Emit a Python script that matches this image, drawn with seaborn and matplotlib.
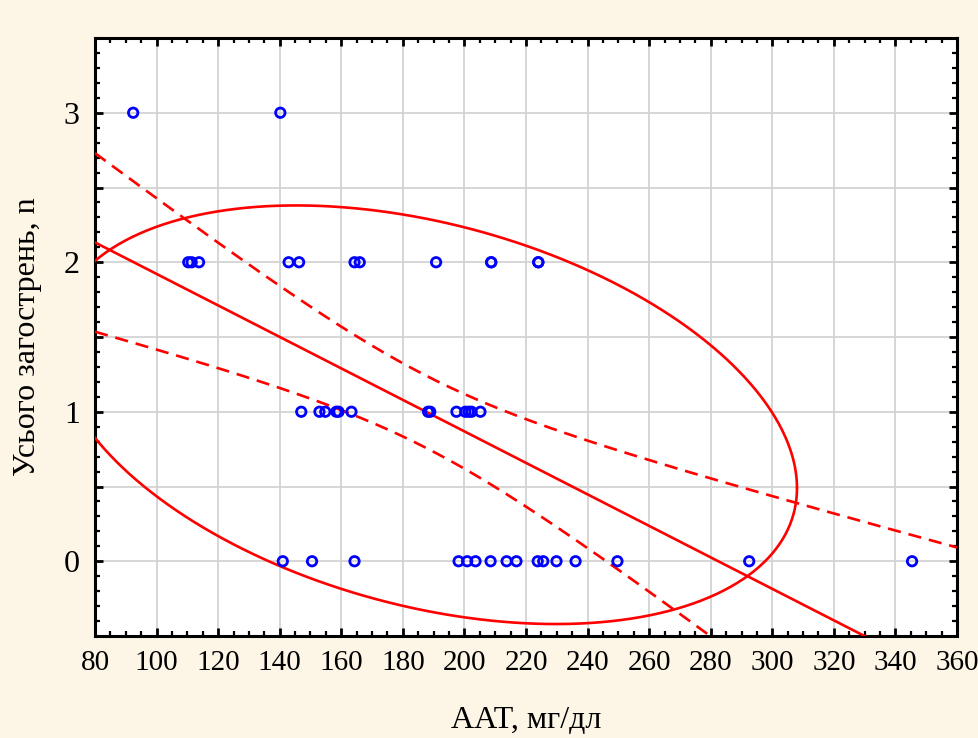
import numpy as np
import pandas as pd
import matplotlib
matplotlib.use("Agg")
import matplotlib.pyplot as plt
import seaborn as sns
from matplotlib.ticker import MultipleLocator, FixedLocator, FuncFormatter

# ---- data ----
aat_3 = [92.4, 140.2]
aat_2 = [110.3, 111.4, 113.8, 142.9, 146.3, 164.3, 166.0, 190.8, 208.7, 208.7, 224.0, 224.0]
aat_1 = [147.0, 152.9, 154.8, 158.4, 159.1, 163.3, 188.2, 188.9, 197.4, 200.3, 201.4, 202.3, 205.2]
aat_0 = [141.0, 150.5, 164.3, 198.1, 200.9, 203.6, 208.5, 213.7, 216.9, 223.8, 225.6,
         229.9, 236.1, 249.7, 292.5, 345.4]
x_ticks = list(range(80, 361, 20))
y_tick_labels = ["0", "1", "2", "3"]

# ellipse shape (as drawn in the reference, centred on the data means)
ell_half_x = 120.5
ell_half_y = 1.40
ell_rho = -0.35
t_crit = 2.02  # t(0.975, n-2)

x_label = "AAT, мг/дл"
y_label = "Усього загострень, n"

aat = np.array(aat_3 + aat_2 + aat_1 + aat_0)
exac = np.array([3] * len(aat_3) + [2] * len(aat_2) + [1] * len(aat_1) + [0] * len(aat_0), dtype=float)
df = pd.DataFrame({"aat": aat, "exac": exac})

sns.set_style("white")
plt.rcParams["font.family"] = ["Liberation Serif", "DejaVu Serif"]
plt.rcParams["text.color"] = "black"
plt.rcParams["axes.labelcolor"] = "black"
plt.rcParams["xtick.color"] = "black"
plt.rcParams["ytick.color"] = "black"

fig = plt.figure(figsize=(9.79, 7.38), dpi=100)
fig.patch.set_facecolor("#FDF6E7")
ax = fig.add_axes([95 / 979, 1 - 636 / 738, (957 - 95) / 979, (636 - 38) / 738])
ax.set_facecolor("white")

# regression + 95% confidence band
n = len(aat)
slope, intercept = np.polyfit(aat, exac, 1)
xs = np.linspace(80, 360, 400)
yhat = intercept + slope * xs
resid = exac - (intercept + slope * aat)
s = np.sqrt(np.sum(resid ** 2) / (n - 2))
sxx = np.sum((aat - aat.mean()) ** 2)
half = t_crit * s * np.sqrt(1 / n + (xs - aat.mean()) ** 2 / sxx)

red = "#FF0000"
lw_red = 1.9
ax.plot(xs, yhat, color=red, lw=lw_red, zorder=3)
ax.plot(xs, yhat + half, color=red, lw=lw_red, ls=(0, (5, 3)), zorder=3)
ax.plot(xs, yhat - half, color=red, lw=lw_red, ls=(0, (5, 3)), zorder=3)

# ellipse
tt = np.linspace(0, 2 * np.pi, 600)
ex = aat.mean() + ell_half_x * np.cos(tt)
ey = exac.mean() - 0.02 + ell_half_y * (ell_rho * np.cos(tt) + np.sqrt(1 - ell_rho ** 2) * np.sin(tt))
ax.plot(ex, ey, color=red, lw=lw_red, zorder=3)

sns.scatterplot(data=df, x="aat", y="exac", ax=ax, marker="o", s=46,
                facecolors="none", edgecolors="#0000FF", linewidths=2.0, zorder=4)

ax.set_xlim(80, 360)
ax.set_ylim(-0.5, 3.5)
ax.xaxis.set_major_locator(FixedLocator(x_ticks))
ax.xaxis.set_minor_locator(MultipleLocator(5))
ax.yaxis.set_major_locator(MultipleLocator(0.5))
ax.yaxis.set_minor_locator(MultipleLocator(0.1))
ax.yaxis.set_major_formatter(FuncFormatter(
    lambda v, p: y_tick_labels[int(round(v))] if abs(v - round(v)) < 1e-6 and 0 <= round(v) <= 3 else ""))

ax.grid(True, which="major", color="#D0D0D0", lw=1.2, zorder=0)
ax.set_axisbelow(True)
for sp in ax.spines.values():
    sp.set_visible(True)
    sp.set_color("black")
    sp.set_linewidth(2.2)

ax.tick_params(which="both", direction="in", top=True, right=True, bottom=True, left=True,
               color="black", labelcolor="black")
ax.tick_params(which="major", length=6, width=2.0, pad=9)
ax.tick_params(which="minor", length=3.5, width=1.6)
ax.tick_params(axis="x", which="major", labelsize=21, pad=10)
ax.tick_params(axis="y", which="major", labelsize=23, pad=11)

ax.set_xlabel(x_label, fontsize=23, labelpad=22, color="black")
ax.set_ylabel(y_label, fontsize=23, labelpad=16, color="black")

fig.savefig("out.png", dpi=100, facecolor=fig.get_facecolor())
